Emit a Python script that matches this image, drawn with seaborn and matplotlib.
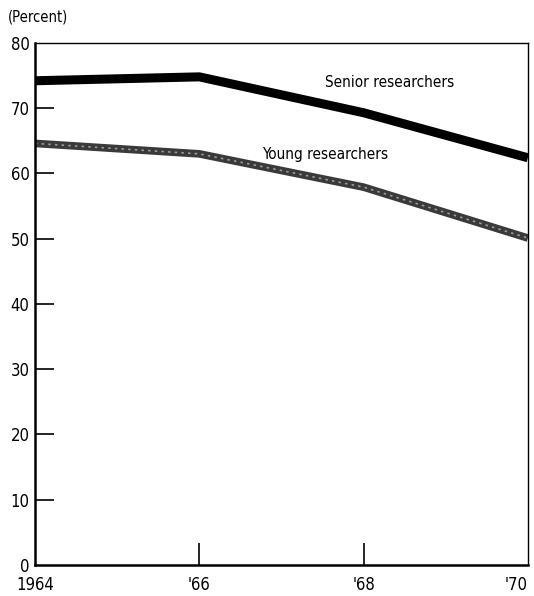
import matplotlib
matplotlib.use("Agg")
import matplotlib.pyplot as plt
import seaborn as sns
import pandas as pd

# Values
years = [1964, 1966, 1968, 1970]
senior_pct = [74.2, 74.8, 69.3, 62.4]
young_pct = [64.6, 63.0, 57.9, 50.1]
x_tick_labels = ["1964", "'66", "'68", "'70"]
y_ticks = [0, 10, 20, 30, 40, 50, 60, 70, 80]

sns.set_theme(style="white")
plt.rcParams["font.family"] = ["DejaVu Sans"]
plt.rcParams["font.stretch"] = "condensed"
plt.rcParams["text.color"] = "black"

df = pd.DataFrame({"year": years, "senior": senior_pct, "young": young_pct})

fig = plt.figure(figsize=(5.34, 5.96), dpi=100)
ax = fig.add_axes([0.0655, 0.052, 0.923, 0.876])

sns.lineplot(data=df, x="year", y="senior", ax=ax, color="black", linewidth=6.5,
             solid_capstyle="butt")
sns.lineplot(data=df, x="year", y="young", ax=ax, color="#3a3a3a", linewidth=5.5,
             solid_capstyle="butt")
# light speckle over the young line to suggest the screened texture
ax.plot(df["year"], df["young"], color="#9a9a9a", linewidth=1.2,
        linestyle=(0, (1.5, 2.5)), solid_capstyle="butt")

ax.set_xlim(1964, 1970)
ax.set_ylim(0, 80)
ax.set_xticks(years)
ax.set_xticklabels(x_tick_labels)
ax.set_yticks(y_ticks)
ax.set_xlabel("")
ax.set_ylabel("")

ax.tick_params(axis="y", direction="in", length=14, width=1.2, colors="black",
               labelsize=12, pad=4, left=True)
ax.tick_params(axis="x", direction="in", length=16, width=1.2, colors="black",
               labelsize=12, pad=8, bottom=True)

# no tick marks at the corners, only at '66 and '68
xt = ax.xaxis.get_major_ticks()
xt[0].tick1line.set_visible(False)
xt[-1].tick1line.set_visible(False)
yt = ax.yaxis.get_major_ticks()
yt[0].tick1line.set_visible(False)
yt[-1].tick1line.set_visible(False)
xlabels = ax.get_xticklabels()
xlabels[-1].set_ha("right")
xlabels[-1].set_x(1970.05)

for side in ["left", "bottom"]:
    ax.spines[side].set_linewidth(1.8)
    ax.spines[side].set_color("black")
for side in ["top", "right"]:
    ax.spines[side].set_linewidth(1.0)
    ax.spines[side].set_color("black")

ax.text(1968.32, 73.9, "Senior researchers", fontsize=11, ha="center", va="center")
ax.text(1967.53, 62.9, "Young researchers", fontsize=11, ha="center", va="center",
        fontweight="medium")

fig.text(0.015, 0.972, "(Percent)", fontsize=10.5, ha="left", va="center")

fig.savefig("out.png", dpi=100)
